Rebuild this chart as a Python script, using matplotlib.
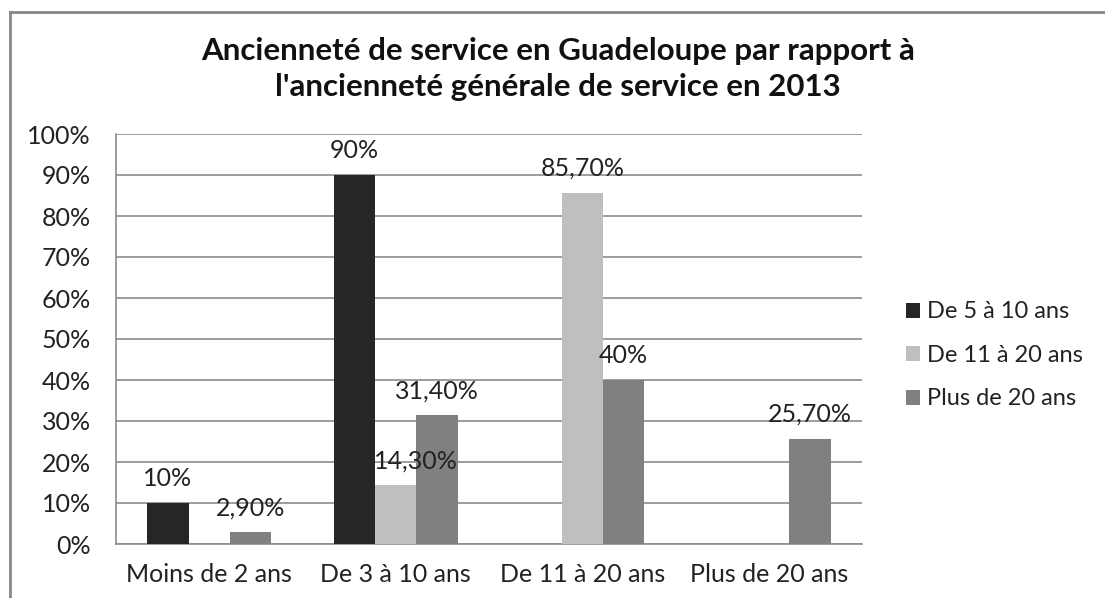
import numpy as np
import matplotlib
matplotlib.use("Agg")
import matplotlib.pyplot as plt
from matplotlib.lines import Line2D

plt.rcParams['font.family'] = ['Lato', 'DejaVu Sans']

categories = ["Moins de 2 ans", "De 3 à 10 ans", "De 11 à 20 ans", "Plus de 20 ans"]
series_names = ["De 5 à 10 ans", "De 11 à 20 ans", "Plus de 20 ans"]
s1 = [10.0, 90.0, 0.0, 0.0]
s2 = [0.0, 14.3, 85.7, 0.0]
s3 = [2.9, 31.4, 40.0, 25.7]
colors = ["#262626", "#bfbfbf", "#808080"]
title = "Ancienneté de service en Guadeloupe par rapport à\nl'ancienneté générale de service en 2013"

fig = plt.figure(figsize=(11.05, 5.98), dpi=100)
ax = fig.add_axes([116/1105, 1-544/598, (862-116)/1105, (544-134)/598])

x = np.arange(len(categories))
w = 1 / 4.5
for i, (vals, name, c) in enumerate(zip([s1, s2, s3], series_names, colors)):
    pos = x + (i - 1) * w
    ax.bar(pos, vals, width=w, color=c, label=name, zorder=3)
    for p, v in zip(pos, vals):
        if v > 0:
            lbl = ("%.2f" % v).replace(".", ",") + "%" if v != int(v) else "%d%%" % v
            dx = 20 if (v == 14.3) else 0   # label nudged right, as in the original
            ax.annotate(lbl, (p, v), xytext=(dx, 13), textcoords="offset pixels",
                        ha="center", va="bottom", fontsize=18, color="#222222", zorder=5)

ax.set_xlim(-0.5, 3.5)
ax.set_ylim(0, 100)
ax.set_yticks(np.arange(0, 101, 10))
ax.set_yticklabels(["%d%%" % t for t in range(0, 101, 10)])
ax.set_xticks(x)
ax.set_xticklabels(categories)
ax.tick_params(axis="both", length=0, labelsize=18, labelcolor="#222222")
ax.tick_params(axis="y", pad=18)
ax.tick_params(axis="x", pad=14)
ax.yaxis.grid(True, color="#8c8c8c", linewidth=1.2, zorder=0)
for s in ["top", "right"]:
    ax.spines[s].set_visible(False)
for s in ["left", "bottom"]:
    ax.spines[s].set_color("#8c8c8c")
    ax.spines[s].set_linewidth(1.2)

leg = ax.legend(loc="center left", bbox_to_anchor=(1.03, 0.46), frameon=False,
                fontsize=17, handlelength=0.6, handleheight=0.6, handletextpad=0.3,
                labelspacing=0.95, labelcolor="#222222")

fig.text(0.505, 1-69/598, title, ha="center", va="center", fontsize=22.5,
         fontweight="bold", color="#111111", linespacing=1.35)

fig.add_artist(Line2D([10/1105, 10/1105], [0, 1-12/598], color="#888888", linewidth=2))
fig.add_artist(Line2D([10/1105, 1], [1-12/598, 1-12/598], color="#888888", linewidth=2))

fig.savefig("out.png", dpi=100)
